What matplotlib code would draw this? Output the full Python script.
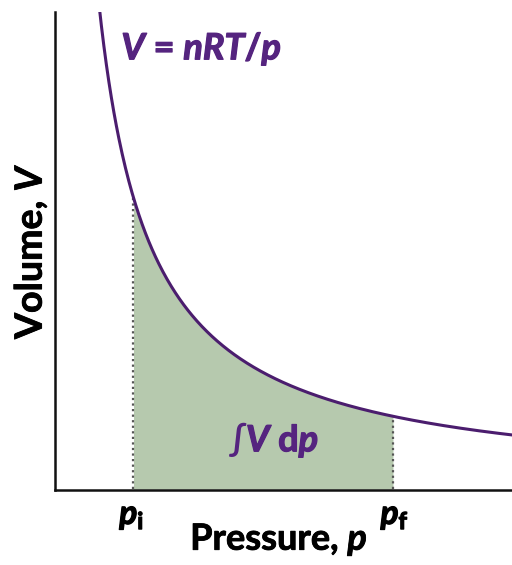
import numpy as np
import matplotlib
matplotlib.use('Agg')
import matplotlib.pyplot as plt
import matplotlib.patheffects as pe

# isotherm V = nRT/p, arbitrary units
nRT = 1.0
p_i = 1.0
p_f = 4.0
p_range = [0.6, 5.4]

xlabel = 'Pressure, '
ylabel = 'Volume, '

purple = '#4b1d6e'
text_purple = '#55247f'
fill_green = '#b6c9ae'

plt.rcParams['font.family'] = ['Lato', 'DejaVu Sans']
plt.rcParams['font.weight'] = 'bold'
plt.rcParams['mathtext.fontset'] = 'custom'
plt.rcParams['mathtext.rm'] = 'Lato:bold'
plt.rcParams['mathtext.it'] = 'Lato:italic:bold'
plt.rcParams['mathtext.bf'] = 'Lato:bold'


def volume(p):
    return nRT / p


def heavy(c, w=0.9):
    return [pe.withStroke(linewidth=w, foreground=c)]


fig = plt.figure(figsize=(5.12, 5.65), dpi=100)
ax = fig.add_axes([0.1074, 0.1327, 0.8926, 0.846])

p = np.linspace(p_range[0], p_range[1], 500)
ax.plot(p, volume(p), color=purple, lw=2.2, solid_capstyle='butt', zorder=3)

# shaded area between p_i and p_f
ps = np.linspace(p_i, p_f, 300)
ax.fill_between(ps, 0, volume(ps), color=fill_green, lw=0, zorder=1)
for pp in (p_i, p_f):
    ax.plot([pp, pp], [0, volume(pp)], color='#555555', lw=1.6,
            linestyle=(0, (1, 1.5)), zorder=2)

ax.set_xlim(0.0925, 5.376)
ax.set_ylim(-0.003, 1.637)

for s in ('top', 'right'):
    ax.spines[s].set_visible(False)
for s in ('left', 'bottom'):
    ax.spines[s].set_linewidth(1.8)
    ax.spines[s].set_color('#111111')
ax.set_xticks([])
ax.set_yticks([])

ax.text(0.86, 1.51, r'$V$ = $nRT/p$', color=text_purple, fontsize=26,
        ha='left', va='center', path_effects=heavy(text_purple))
ax.text(2.2, 0.17, r'$\int$', color=text_purple, fontsize=25,
        ha='center', va='center', fontweight='normal')
ax.text(2.3, 0.165, r'$V$ d$p$', color=text_purple, fontsize=26,
        ha='left', va='center', path_effects=heavy(text_purple))

ax.text(p_i - 0.02, -0.095, r'$p_{\mathrm{i}}$', fontsize=24, ha='center',
        va='center', path_effects=heavy('black'))
ax.text(p_f + 0.02, -0.095, r'$p_{\mathrm{f}}$', fontsize=24, ha='center',
        va='center', path_effects=heavy('black'))

xl = ax.set_xlabel(xlabel + r'$p$', fontsize=26, fontweight='bold', labelpad=23)
xl.set_path_effects(heavy('black', 0.6))
xl.set_x(0.49)
yl = ax.set_ylabel(ylabel + r'$V$', fontsize=27, fontweight='bold', labelpad=4)
yl.set_path_effects(heavy('black', 0.6))

fig.savefig('out.png', dpi=100)
